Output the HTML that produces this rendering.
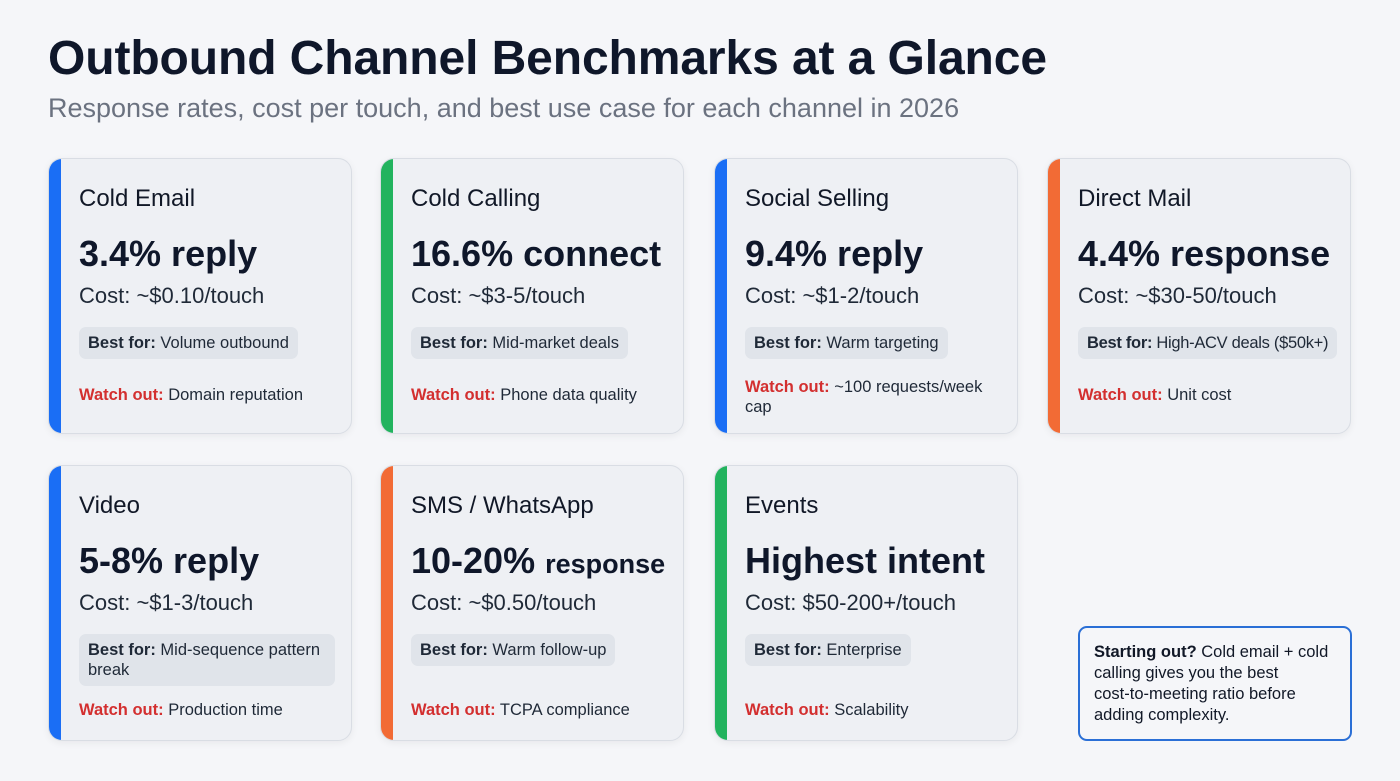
<!DOCTYPE html>
<html><head><meta charset="utf-8"><style>
*{margin:0;padding:0;box-sizing:border-box}
body{width:1400px;height:781px;background:#f5f6f9;font-family:"Liberation Sans",sans-serif;position:relative;overflow:hidden;color:#111827}
h1{position:absolute;left:48px;top:31px;font-size:48px;font-weight:bold;color:#0f172a;letter-spacing:-0.1px}
.sub{position:absolute;left:48px;top:93px;font-size:27px;color:#6b7280;letter-spacing:0px}
.card{position:absolute;width:304px;height:276px;background:#eef0f4;border:1px solid #d9dde4;border-radius:14px;box-shadow:0 2px 8px rgba(0,0,0,0.06);overflow:hidden}
.bar{position:absolute;left:0;top:0;bottom:0;width:12px}
.t{position:absolute;left:30px;top:26px;font-size:24px;color:#111827}
.v{position:absolute;left:30px;top:74px;font-size:36px;font-weight:bold;color:#0f172a;white-space:nowrap}
.c{position:absolute;left:30px;top:124px;font-size:22px;color:#1f2937}
.p{position:absolute;left:30px;top:168px;background:#e0e4ea;border-radius:7px;padding:6px 9px;font-size:16.5px;line-height:20px;color:#1f2937;max-width:262px;white-space:nowrap}
.w{position:absolute;left:30px;top:226px;font-size:16.5px;line-height:20px;color:#1f2937;width:260px}
b.r{color:#d32f2f}
.callout{position:absolute;left:1078px;top:626px;width:274px;height:115px;border:2px solid #2a6fd6;border-radius:9px;background:#f5f6f9;padding:14px 10px 14px 14px;font-size:16.5px;line-height:21px;color:#111827;white-space:nowrap}
</style></head><body>
<h1>Outbound Channel Benchmarks at a Glance</h1>
<div class="sub">Response rates, cost per touch, and best use case for each channel in 2026</div>

<div class="card" style="left:48px;top:158px"><div class="bar" style="background:#1a6ef5"></div><div class="t">Cold Email</div><div class="v">3.4% reply</div><div class="c">Cost: ~$0.10/touch</div><div class="p"><b>Best for:</b> Volume outbound</div><div class="w"><b class="r">Watch out:</b> Domain reputation</div></div>

<div class="card" style="left:380px;top:158px"><div class="bar" style="background:#22b35e"></div><div class="t">Cold Calling</div><div class="v">16.6% connect</div><div class="c">Cost: ~$3-5/touch</div><div class="p"><b>Best for:</b> Mid-market deals</div><div class="w"><b class="r">Watch out:</b> Phone data quality</div></div>

<div class="card" style="left:714px;top:158px"><div class="bar" style="background:#1a6ef5"></div><div class="t">Social Selling</div><div class="v">9.4% reply</div><div class="c">Cost: ~$1-2/touch</div><div class="p"><b>Best for:</b> Warm targeting</div><div class="w" style="top:218px;width:250px"><b class="r">Watch out:</b> ~100 requests/week cap</div></div>

<div class="card" style="left:1047px;top:158px"><div class="bar" style="background:#f26b35"></div><div class="t">Direct Mail</div><div class="v">4.4% response</div><div class="c">Cost: ~$30-50/touch</div><div class="p" style="letter-spacing:-0.3px"><b>Best for:</b> High-ACV deals ($50k+)</div><div class="w"><b class="r">Watch out:</b> Unit cost</div></div>

<div class="card" style="left:48px;top:465px"><div class="bar" style="background:#1a6ef5"></div><div class="t">Video</div><div class="v">5-8% reply</div><div class="c">Cost: ~$1-3/touch</div><div class="p" style="width:256px;white-space:normal"><b>Best for:</b> Mid-sequence pattern break</div><div class="w" style="top:234px"><b class="r">Watch out:</b> Production time</div></div>

<div class="card" style="left:380px;top:465px"><div class="bar" style="background:#f26b35"></div><div class="t">SMS / WhatsApp</div><div class="v">10-20% <span style="font-size:27px">response</span></div><div class="c">Cost: ~$0.50/touch</div><div class="p"><b>Best for:</b> Warm follow-up</div><div class="w" style="top:234px"><b class="r">Watch out:</b> TCPA compliance</div></div>

<div class="card" style="left:714px;top:465px"><div class="bar" style="background:#22b35e"></div><div class="t">Events</div><div class="v">Highest intent</div><div class="c">Cost: $50-200+/touch</div><div class="p"><b>Best for:</b> Enterprise</div><div class="w" style="top:234px"><b class="r">Watch out:</b> Scalability</div></div>

<div class="callout"><b>Starting out?</b> Cold email + cold<br>calling gives you the best<br>cost-to-meeting ratio before<br>adding complexity.</div>
</body></html>
